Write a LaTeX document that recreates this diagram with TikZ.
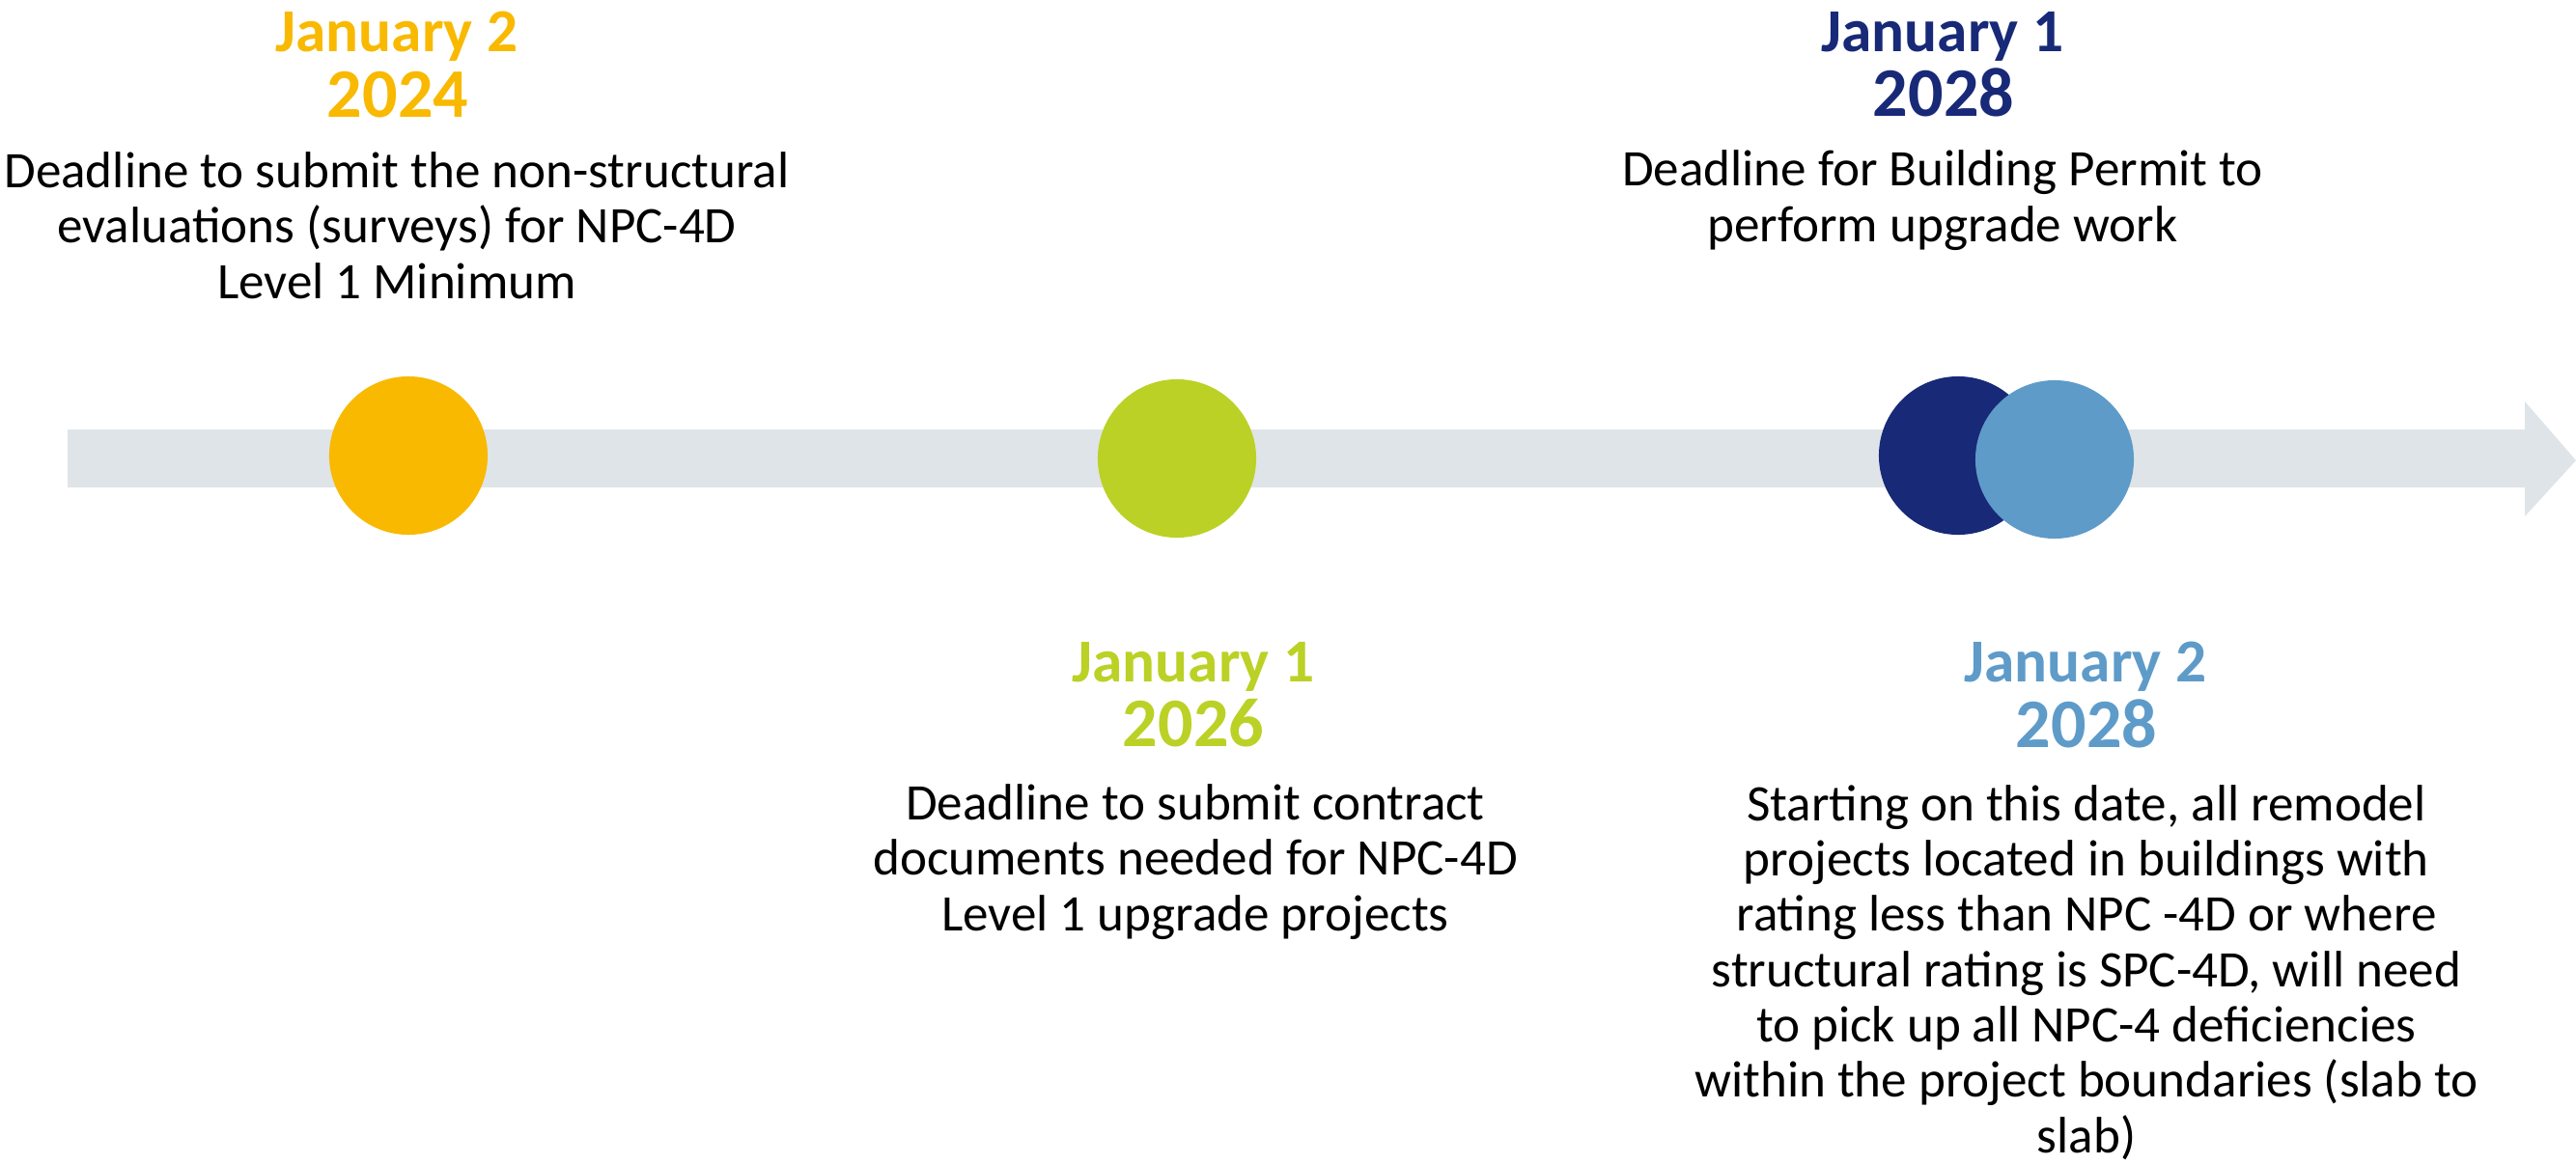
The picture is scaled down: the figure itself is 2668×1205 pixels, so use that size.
\documentclass[tikz,border=0pt]{standalone}
\usepackage{fontspec}
\setmainfont{Carlito}
\definecolor{gold}{HTML}{F8B900}
\definecolor{lime}{HTML}{BBD125}
\definecolor{navy}{HTML}{172977}
\definecolor{sky}{HTML}{5E9BC9}
\definecolor{band}{HTML}{DFE4E8}
\begin{document}
\begin{tikzpicture}[x=0.01cm, y=-0.01cm,
  date/.style={anchor=base, inner sep=0, font=\fontsize{18pt}{20pt}\selectfont\bfseries},
  year/.style={anchor=base, inner sep=0, font=\fontsize{20.5pt}{22pt}\selectfont\bfseries},
  note/.style={anchor=base, inner sep=0, align=center, font=\fontsize{15.1pt}{16.3pt}\selectfont},
  dot/.style={circle, inner sep=0, minimum size=1.64cm}]
\useasboundingbox (0,0) rectangle (2668,1205);
% timeline band
\fill[band] (70,445) -- (2615,445) -- (2615,416) -- (2668,477) -- (2615,535) -- (2615,505) -- (70,505) -- cycle;
% milestones
\node[dot, fill=gold] (m24) at (423,472) {};
\node[dot, fill=lime] (m26) at (1219,475) {};
\node[dot, fill=navy] (m28a) at (2028,472) {};
\node[dot, fill=sky] (m28b) at (2128,476) {};
% labels above (notes sit on their last line)
\node[date, text=gold] (d24) at (411,53) {January 2};
\node[year, text=gold] (y24) at (412,121) {2024};
\node[note] (t24) at (411,309) {Deadline to submit the non-structural\\evaluations (surveys) for NPC-4D\\Level 1 Minimum};
\node[date, text=navy] (d28a) at (2012,53) {January 1};
\node[year, text=navy] (y28a) at (2013,120) {2028};
\node[note] (t28a) at (2012,250) {Deadline for Building Permit to\\perform upgrade work};
% labels below
\node[date, text=lime] (d26) at (1236,706) {January 1};
\node[year, text=lime] (y26) at (1236,773) {2026};
\node[note] (t26) at (1238,964) {Deadline to submit contract\\documents needed for NPC-4D\\Level 1 upgrade projects};
\node[date, text=sky] (d28b) at (2160,706) {January 2};
\node[year, text=sky] (y28b) at (2161,774) {2028};
\node[note] (t28b) at (2161,1194) {Starting on this date, all remodel\\projects located in buildings with\\rating less than NPC -4D or where\\structural rating is SPC-4D, will need\\to pick up all NPC-4 deficiencies\\within the project boundaries (slab to\\slab)};
\end{tikzpicture}
\end{document}
